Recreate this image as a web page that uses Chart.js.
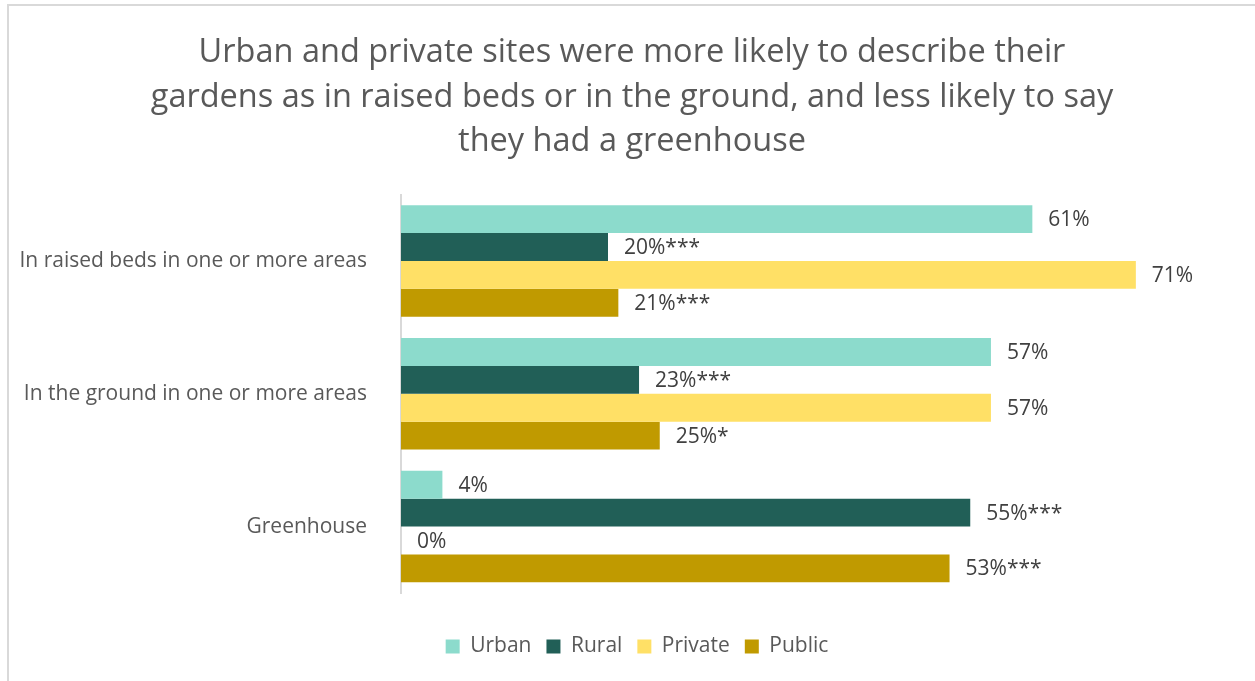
<!DOCTYPE html>
<html>
<head>
<meta charset="utf-8">
<script src="https://cdn.jsdelivr.net/npm/chart.js@4.4.1/dist/chart.umd.min.js"></script>
<style>
  html, body { margin: 0; padding: 0; background: #fff; overflow: hidden; }
  .frame {
    position: absolute; left: 7px; top: 4px; width: 1300px; height: 700px;
    border-left: 2px solid #d9d9d9; border-top: 2px solid #d9d9d9;
  }
  #gardenChart { position: absolute; left: 0; top: 0; }
</style>
</head>
<body>
<div class="frame"></div>
<canvas id="gardenChart" width="1255" height="681"></canvas>
<script>
// Garden type by site (percent of sites)
const categories = [
    'In raised beds in one or more areas',
    'In the ground in one or more areas',
    'Greenhouse'
];
const urban = [61, 57, 4];
const rural = [20, 23, 55];
const privateSites = [71, 57, 0];
const publicSites = [21, 25, 53];
// significance markers shown after the value
const ruralSig = ['***', '***', '***'];
const publicSig = ['***', '*', '***'];

const FONT = "'Open Sans', 'Noto Sans', sans-serif";

// Simple value labels at the end of each bar
const barLabels = {
    id: 'barLabels',
    afterDatasetsDraw(chart) {
        const ctx = chart.ctx;
        ctx.save();
        ctx.font = '21px ' + FONT;
        ctx.fillStyle = '#404040';
        ctx.textAlign = 'left';
        ctx.textBaseline = 'middle';
        chart.data.datasets.forEach((ds, i) => {
            const meta = chart.getDatasetMeta(i);
            meta.data.forEach((bar, j) => {
                const sig = ds.sig ? ds.sig[j] : '';
                ctx.fillText(ds.data[j] + '%' + sig, bar.x + 16, bar.y + 1);
            });
        });
        ctx.restore();
    }
};

// Centre title and legend on the whole frame rather than the layout box
const recenter = {
    id: 'recenter',
    afterLayout(chart) {
        if (chart.titleBlock) chart.titleBlock.left = 35;
        if (chart.legend) chart.legend.left = 45;
    }
};

new Chart(document.getElementById('gardenChart'), {
    type: 'bar',
    data: {
        labels: categories,
        datasets: [
            { label: 'Urban', data: urban, backgroundColor: '#8cdbcc' },
            { label: 'Rural', data: rural, backgroundColor: '#215f57', sig: ruralSig },
            { label: 'Private', data: privateSites, backgroundColor: '#ffe066' },
            { label: 'Public', data: publicSites, backgroundColor: '#c09a00', sig: publicSig }
        ]
    },
    options: {
        indexAxis: 'y',
        responsive: false,
        animation: false,
        events: [],
        layout: { padding: { left: 0, right: 26, top: 0, bottom: 14 } },
        datasets: { bar: { categoryPercentage: 0.84, barPercentage: 1.0 } },
        plugins: {
            title: {
                display: true,
                text: [
                    'Urban and private sites were more likely to describe their',
                    'gardens as in raised beds or in the ground, and less likely to say',
                    'they had a greenhouse'
                ],
                color: '#595959',
                font: { size: 32.5, family: FONT, weight: 'normal', lineHeight: 1.38 },
                padding: { top: 30, bottom: 30 }
            },
            legend: {
                position: 'bottom',
                labels: {
                    color: '#595959',
                    font: { size: 21, family: FONT },
                    boxWidth: 14,
                    boxHeight: 14,
                    padding: 15
                }
            },
            tooltip: { enabled: false }
        },
        scales: {
            x: {
                min: 0,
                max: 80,
                grid: { display: false, drawTicks: false },
                border: { display: false },
                ticks: { display: false },
                afterFit(scale) { scale.height = 28; }
            },
            y: {
                grid: { display: false, drawTicks: false },
                border: { display: true, color: '#d9d9d9', width: 2 },
                ticks: {
                    color: '#595959',
                    font: { size: 21, family: FONT },
                    padding: 34
                },
                afterFit(scale) { scale.width = 401; }
            }
        }
    },
    plugins: [barLabels, recenter]
});
</script>
</body>
</html>
